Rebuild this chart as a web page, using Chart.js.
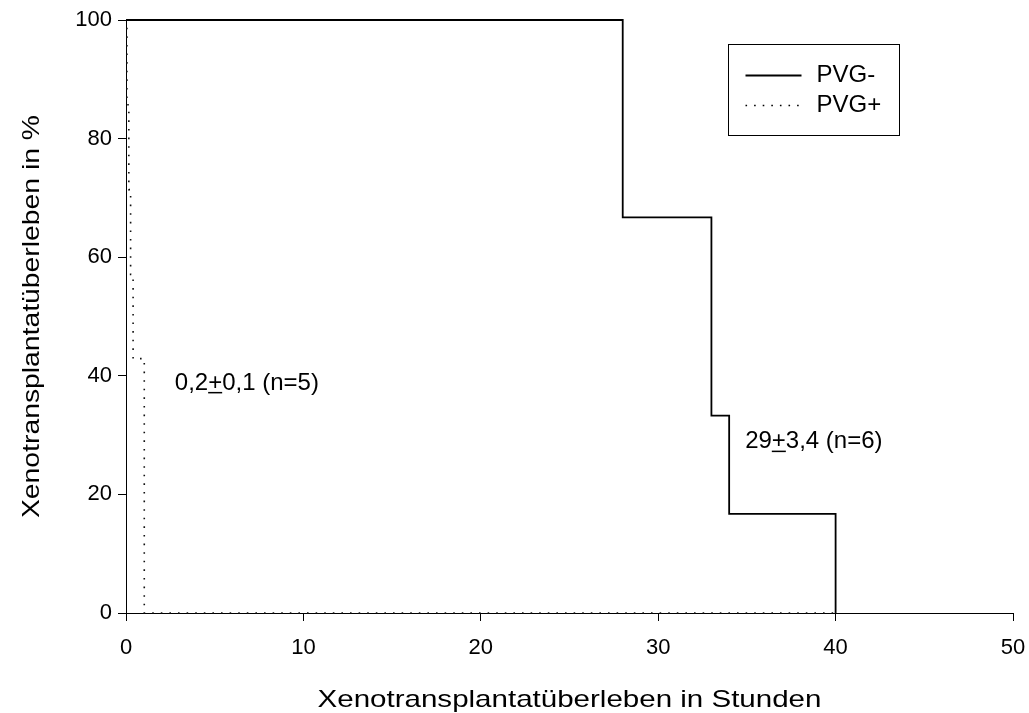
<!DOCTYPE html>
<html>
<head>
<meta charset="utf-8">
<script src="https://cdn.jsdelivr.net/npm/chart.js@4.4.1/dist/chart.umd.min.js"></script>
<style>
  body { margin: 0; background: #fff; }
  #survivalChart { display: block; }
</style>
</head>
<body>
<canvas id="survivalChart" width="1029" height="713"></canvas>
<script>
const survivalCtx = document.getElementById("survivalChart")

// Kaplan-Meier steps (hours, % surviving after that time)
const pvgMinusHours = [0, 28, 33, 34, 40]
const pvgMinusSurvival = [100, 66.7, 33.3, 16.7, 0]
const pvgPlusHours = [0, 0.05, 0.16, 0.26, 0.4, 1.03, 40]
const pvgPlusSurvival = [100, 85.7, 71.4, 57.1, 42.9, 0, 0]

const seriesLabels = ['PVG-', 'PVG+']
const xTicks = [0, 10, 20, 30, 40, 50]
const yTicks = [0, 20, 40, 60, 80, 100]
const xTitle = 'Xenotransplantatüberleben in Stunden'
const yTitle = 'Xenotransplantatüberleben in %'

// group results written next to the curves: [before, underlined, after]
const groupNotes = [
    ['0,2', '+', '0,1 (n=5)'],
    ['29', '+', '3,4 (n=6)']
]
const notePlaces = [[2.75, 38.8], [34.9, 28.9]]

const fontName = "'Liberation Sans', Arial, sans-serif"
Chart.defaults.font.family = fontName
Chart.defaults.color = '#000'

function toPoints(xs, ys) {
    return xs.map((x, i) => ({ x: x, y: ys[i] }))
}

// the original lettering is a bit wider than Arial, so stretch it sideways
function stretchedText(ctx, text, x, y, stretch, rotated) {
    ctx.save()
    ctx.translate(x, y)
    if (rotated) ctx.rotate(-Math.PI / 2)
    ctx.scale(stretch, 1)
    ctx.fillText(text, 0, 0)
    ctx.restore()
}

// axis titles, the boxed legend and the n= notes
const notesPlugin = {
    id: 'notes',
    afterDatasetsDraw(chart) {
        const ctx = chart.ctx
        const xs = chart.scales.x
        const ys = chart.scales.y
        const area = chart.chartArea
        ctx.save()
        ctx.fillStyle = '#000'

        ctx.font = `24px ${fontName}`
        ctx.textAlign = 'center'
        ctx.textBaseline = 'alphabetic'
        stretchedText(ctx, xTitle, (area.left + area.right) / 2, 707, 1.23, false)
        stretchedText(ctx, yTitle, 39, (area.top + area.bottom) / 2, 1.18, true)

        ctx.textAlign = 'left'
        ctx.textBaseline = 'middle'
        groupNotes.forEach((parts, i) => {
            let px = xs.getPixelForValue(notePlaces[i][0])
            const py = ys.getPixelForValue(notePlaces[i][1])
            parts.forEach((part, j) => {
                ctx.fillText(part, px, py)
                const w = ctx.measureText(part).width
                if (j === 1) {
                    ctx.fillRect(px, py + 9, w, 1.5)
                }
                px += w
            })
        })

        // legend box
        const box = { left: 728.5, top: 44.5, width: 171, height: 91 }
        ctx.strokeStyle = '#000'
        ctx.lineWidth = 1
        ctx.strokeRect(box.left, box.top, box.width, box.height)
        chart.data.datasets.forEach((ds, i) => {
            const y = box.top + 31 + i * 30
            ctx.beginPath()
            ctx.lineWidth = ds.borderWidth
            ctx.setLineDash(ds.borderDash || [])
            ctx.moveTo(box.left + 17, y)
            ctx.lineTo(box.left + 73, y)
            ctx.stroke()
            ctx.setLineDash([])
            ctx.fillText(ds.label, box.left + 88, y)
        })
        ctx.restore()
    }
}

const survivalChart = new Chart(survivalCtx, {
    type: 'scatter',
    data: {
        datasets: [{
            label: seriesLabels[0],
            data: toPoints(pvgMinusHours, pvgMinusSurvival),
            showLine: true,
            stepped: 'before',
            borderColor: '#000',
            borderWidth: 1.8,
            pointRadius: 0,
            clip: false
        }, {
            label: seriesLabels[1],
            data: toPoints(pvgPlusHours, pvgPlusSurvival),
            showLine: true,
            stepped: 'before',
            borderColor: '#111',
            borderWidth: 1.6,
            borderDash: [1.6, 7],
            pointRadius: 0,
            clip: false
        }]
    },
    options: {
        responsive: false,
        animation: false,
        layout: { padding: { left: 0, top: 20, right: 16, bottom: 0 } },
        plugins: {
            legend: { display: false },
            tooltip: { enabled: false }
        },
        scales: {
            x: {
                type: 'linear',
                min: 0,
                max: 50,
                afterFit: (scale) => {
                    scale.height = 100
                    scale.paddingLeft = 0
                    scale.paddingRight = 0
                },
                afterBuildTicks: (scale) => { scale.ticks = xTicks.map(v => ({ value: v })) },
                ticks: { font: { size: 22 }, padding: 14, maxRotation: 0 },
                grid: { drawOnChartArea: false, drawTicks: true, tickLength: 8, color: '#000', lineWidth: 1 },
                border: { display: true, color: '#000', width: 1 }
            },
            y: {
                type: 'linear',
                min: 0,
                max: 100,
                afterFit: (scale) => {
                    scale.width = 126
                    scale.paddingTop = 0
                    scale.paddingBottom = 0
                },
                afterBuildTicks: (scale) => { scale.ticks = yTicks.map(v => ({ value: v })) },
                ticks: { font: { size: 22 }, padding: 6 },
                grid: { drawOnChartArea: false, drawTicks: true, tickLength: 8, color: '#000', lineWidth: 1 },
                border: { display: true, color: '#000', width: 1 }
            }
        }
    },
    plugins: [notesPlugin]
});
</script>
</body>
</html>
